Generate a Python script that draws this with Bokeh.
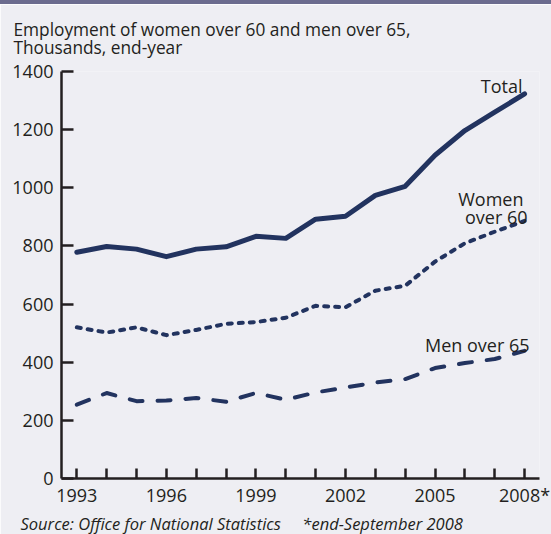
from bokeh.plotting import figure
from bokeh.layouts import column
from bokeh.models import Label, FixedTicker, Range1d, Title, Div
from bokeh.embed import file_html
from bokeh.resources import INLINE

years = list(range(1993, 2009))
total = [778, 798, 789, 763, 789, 797, 833, 826, 892, 902, 974, 1005, 1112, 1197, 1260, 1323]
women = [520, 502, 520, 493, 511, 532, 538, 553, 594, 589, 646, 663, 746, 809, 849, 886]
men = [254, 294, 266, 268, 277, 264, 294, 271, 296, 313, 330, 342, 380, 397, 411, 439]
y_ticks = [0, 200, 400, 600, 800, 1000, 1200, 1400]
x_labelled = {1993: "1993", 1996: "1996", 1999: "1999", 2002: "2002", 2005: "2005", 2008: "2008*"}
title_lines = ["Employment of women over 60 and men over 65,", "Thousands, end-year"]
series_labels = ["Total", "Women", "over 60", "Men over 65"]
source = "Source: Office for National Statistics"
footnote = "*end-September 2008"

BG = "#eeeef3"
BAR = "#6b6b8e"
INK = "#231f20"
NAVY = "#22335f"
FONT = "Open Sans"

W, H, BAR_H = 551, 534, 4
H2 = H - BAR_H
FL, FR, FT, FB = 61, 539, 71 - BAR_H, 479 - BAR_H  # frame edges in px inside the figure

bar = Div(text="", width=W, height=BAR_H, margin=0,
          styles={"background-color": BAR, "width": f"{W}px", "height": f"{BAR_H}px"})

p = figure(width=W, height=H2, output_backend="svg", toolbar_location=None,
           min_border_left=FL, min_border_right=W - FR, min_border_top=FT, min_border_bottom=H2 - FB)
p.x_range = Range1d(1992.487, 2008.50)
p.y_range = Range1d(0, 1400)
p.background_fill_color = BG
p.border_fill_color = BG
p.outline_line_color = None
p.grid.grid_line_color = None
p.margin = 0

for ax in (p.xaxis, p.yaxis):
    ax.axis_line_color = INK
    ax.axis_line_width = 2.5
    ax.major_tick_line_color = INK
    ax.major_tick_line_width = 2.5
    ax.major_tick_out = 0
    ax.minor_tick_line_color = None
    ax.major_label_text_font = FONT
    ax.major_label_text_font_size = "18px"
    ax.major_label_text_color = INK

p.yaxis.ticker = FixedTicker(ticks=y_ticks)
p.yaxis.major_tick_in = 12
p.yaxis.major_label_standoff = 8

p.xaxis.ticker = FixedTicker(ticks=years)
p.xaxis.major_tick_in = 10
p.xaxis.major_label_standoff = 4
p.xaxis.major_label_overrides = {y: x_labelled.get(y, "") for y in years}

p.line(years, total, line_color=NAVY, line_width=5, line_join="round", line_cap="round")
p.line(years, women, line_color=NAVY, line_width=4, line_dash="4 7", line_join="round", line_cap="round")
p.line(years, men, line_color=NAVY, line_width=4, line_dash="13 15", line_join="round", line_cap="round")

label_px = [(522, 86), (523, 199), (527, 217), (529, 345)]
for txt, (px, py) in zip(series_labels, label_px):
    p.add_layout(Label(x=1992.487, y=0, x_offset=px - FL, y_offset=(479 - py), text=txt,
                       text_font=FONT, text_font_size="18px", text_color=INK, text_align="right",
                       text_baseline="alphabetic"))

# two-line title in the top panel (side panels are not clipped to the frame)
p.title.text = "\n".join(title_lines)
p.title.align = "left"
p.title.vertical_align = "top"
p.title.offset = 13 - FL
p.title.text_font = FONT
p.title.text_font_size = "17.3px"
p.title.text_font_style = "normal"
p.title.text_line_height = 0.82
p.title.text_color = INK
p.title.standoff = 20

p.add_layout(Title(text=source + "\u00a0" * 5 + footnote, align="left", offset=20 - FL, text_font=FONT,
                   text_font_size="16.5px", text_font_style="italic", text_color=INK, standoff=0), "below")

layout = column(bar, p, spacing=0)
open("out.html", "w").write(file_html(layout, INLINE))
